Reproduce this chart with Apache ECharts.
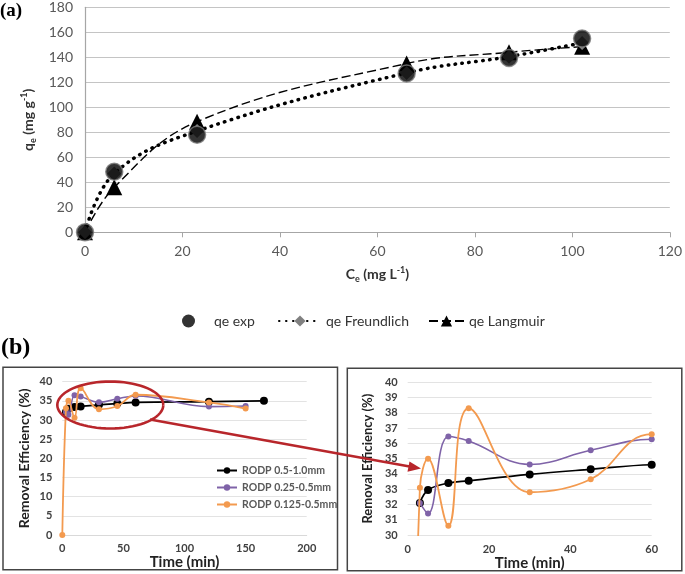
<!DOCTYPE html>
<html>
<head>
<meta charset="utf-8">
<script src="https://cdn.jsdelivr.net/npm/echarts@6/dist/echarts.min.js"></script>
<style>
html,body{margin:0;padding:0;background:#fff;}
#chart{width:685px;height:574px;}
</style>
</head>
<body>
<div id="chart"></div>
<script>
// ---------- Panel (a): isotherm data ----------
const ceValues = [0, 6, 23, 66, 87, 102];
const qeExp = [0, 48.5, 78, 127, 139.5, 155];
const qeFreundlich = [0, 47, 81, 127.5, 140.5, 151.5];
const qeLangmuir = [0, 36, 88.5, 135, 144, 148.5];

// ---------- Panel (b): kinetics data ----------
const timeBlack = [3, 5, 10, 15, 30, 45, 60, 120, 165];
const effBlack = [32.1, 32.95, 33.4, 33.55, 33.97, 34.3, 34.6, 34.8, 35.0];
const timePurple = [3, 5, 10, 15, 30, 45, 60, 120, 150];
const effPurple = [32.1, 31.4, 36.45, 36.15, 34.62, 35.55, 36.27, 33.5, 33.65];
const timeOrange = [0, 3, 5, 10, 15, 30, 45, 60, 120, 150];
const effOrange = [0, 33.1, 35.0, 30.6, 38.3, 32.8, 33.65, 36.6, 34.6, 33.0];

const nameExp = 'qe exp', nameFr = 'qe Freundlich', nameLa = 'qe Langmuir';
const nameB1 = 'RODP 0.5-1.0mm', nameB2 = 'RODP 0.25-0.5mm', nameB3 = 'RODP 0.125-0.5mm';

function pairs(xs, ys) { return xs.map((x, i) => [x, ys[i]]); }

const FONT = 'Lato, "Open Sans", sans-serif';
const cPurple = '#7f63a8', cOrange = '#f39a4f', cRed = '#b8262b';

// ellipse outline (annotation)
const ell = [];
for (let i = 0; i <= 72; i++) {
  const t = i / 72 * Math.PI * 2;
  ell.push([110.3 + 53 * Math.cos(t), 405 + 23.5 * Math.sin(t)]);
}

const bLabel = { fontFamily: FONT, fontWeight: 'bold', fontSize: 11, color: '#404040' };
const bName = { fontFamily: FONT, fontWeight: 'bold', fontSize: 15, color: '#222' };

function bSeries(grid) {
  return [
    { name: nameB1, type: 'line', xAxisIndex: grid, yAxisIndex: grid, data: pairs(timeBlack, effBlack),
      smooth: 0.4, symbol: 'circle', symbolSize: 8, itemStyle: { color: '#000' },
      lineStyle: { color: '#000', width: 1.7 }, z: 3 },
    { name: nameB2, type: 'line', xAxisIndex: grid, yAxisIndex: grid, data: pairs(timePurple, effPurple),
      smooth: 0.4, symbol: 'circle', symbolSize: 6, itemStyle: { color: cPurple },
      lineStyle: { color: cPurple, width: 1.6 }, z: 4 },
    { name: nameB3, type: 'line', xAxisIndex: grid, yAxisIndex: grid, data: pairs(timeOrange, effOrange),
      smooth: 0.4, symbol: 'circle', symbolSize: 6, itemStyle: { color: cOrange },
      lineStyle: { color: cOrange, width: 1.8 }, z: 5 }
  ];
}

const chart = echarts.init(document.getElementById('chart'), null, { renderer: 'canvas' });
chart.setOption({
  animation: false,
  backgroundColor: '#fff',
  grid: [
    { left: 85, top: 7.3, width: 588, height: 225 },
    { left: 62.3, top: 381.7, width: 244.4, height: 153.3 },
    { left: 407.7, top: 382.3, width: 244, height: 152.7 }
  ],
  xAxis: [
    { type: 'value', gridIndex: 0, min: 0, max: 120, interval: 20,
      axisLine: { show: true, lineStyle: { color: '#a6a6a6', width: 1.2 } },
      axisTick: { show: true, length: 5, lineStyle: { color: '#a6a6a6' } },
      splitLine: { show: false },
      axisLabel: { fontFamily: FONT, fontSize: 14, color: '#595959', margin: 12 },
      name: '{t|C}{s|e}{t| (mg L}{p|-1}{t|)}', nameLocation: 'middle', nameGap: 33,
      nameTextStyle: { rich: {
        t: { fontFamily: FONT, fontWeight: 'bold', fontSize: 14, color: '#333', lineHeight: 18 },
        s: { fontFamily: FONT, fontWeight: 'bold', fontSize: 9, color: '#333', verticalAlign: 'bottom', lineHeight: 18 },
        p: { fontFamily: FONT, fontWeight: 'bold', fontSize: 9, color: '#333', verticalAlign: 'top', lineHeight: 18 } } } },
    { type: 'value', gridIndex: 1, min: 0, max: 200, interval: 50,
      axisLine: { show: true, lineStyle: { color: '#d9d9d9' } },
      axisTick: { show: false }, splitLine: { show: false },
      axisLabel: Object.assign({ margin: 8 }, bLabel),
      name: 'Time (min)', nameLocation: 'middle', nameGap: 18, nameTextStyle: bName },
    { type: 'value', gridIndex: 2, min: 0, max: 60, interval: 20,
      axisLine: { show: false },
      axisTick: { show: false }, splitLine: { show: false },
      axisLabel: Object.assign({ margin: 9 }, bLabel),
      name: 'Time (min)', nameLocation: 'middle', nameGap: 18, nameTextStyle: bName }
  ],
  yAxis: [
    { type: 'value', gridIndex: 0, min: 0, max: 180, interval: 20,
      axisLine: { show: true, lineStyle: { color: '#a6a6a6', width: 1.2 } },
      axisTick: { show: false },
      splitLine: { show: true, lineStyle: { color: '#c4c4c4', width: 1.2 } },
      axisLabel: { fontFamily: FONT, fontSize: 14, color: '#595959', margin: 12 },
      name: '{t|q}{s|e}{t| (mg g}{p|-1}{t|)}', nameLocation: 'middle', nameGap: 42, nameRotate: 90,
      nameTextStyle: { rich: {
        t: { fontFamily: FONT, fontWeight: 'bold', fontSize: 14, color: '#333', lineHeight: 18 },
        s: { fontFamily: FONT, fontWeight: 'bold', fontSize: 9, color: '#333', verticalAlign: 'bottom', lineHeight: 18 },
        p: { fontFamily: FONT, fontWeight: 'bold', fontSize: 9, color: '#333', verticalAlign: 'top', lineHeight: 18 } } } },
    { type: 'value', gridIndex: 1, min: 0, max: 40, interval: 5,
      axisLine: { show: false }, axisTick: { show: false },
      splitLine: { show: true, lineStyle: { color: '#e3e3e3' } },
      axisLabel: Object.assign({ margin: 10 }, bLabel),
      name: 'Removal Efficiency (%)', nameLocation: 'middle', nameGap: 31, nameRotate: 90,
      nameTextStyle: { fontFamily: FONT, fontWeight: 'bold', fontSize: 14, color: '#222' } },
    { type: 'value', gridIndex: 2, min: 30, max: 40, interval: 1,
      axisLine: { show: false }, axisTick: { show: false },
      splitLine: { show: true, lineStyle: { color: '#e3e3e3' } },
      axisLabel: Object.assign({ margin: 10 }, bLabel),
      name: 'Removal Efficiency (%)', nameLocation: 'middle', nameGap: 33, nameRotate: 90,
      nameTextStyle: { fontFamily: FONT, fontWeight: 'bold', fontSize: 13, color: '#222' } }
  ],
  legend: [
    { data: [nameExp], left: 177, top: 309, itemWidth: 13, itemHeight: 13,
      itemStyle: { borderWidth: 0 },
      textStyle: { fontFamily: FONT, fontSize: 14, color: '#333', padding: [0, 0, 0, 14] } },
    { data: [nameFr], left: 273, top: 309, itemWidth: 42, itemHeight: 14,
      textStyle: { fontFamily: FONT, fontSize: 14, color: '#333' } },
    { data: [nameLa], left: 423, top: 309, itemWidth: 35, itemHeight: 14,
      textStyle: { fontFamily: FONT, fontSize: 14, color: '#333' } },
    { data: [nameB1, nameB2, nameB3], orient: 'vertical', left: 211, top: 460, itemWidth: 20, itemHeight: 8, itemGap: 6,
      textStyle: { fontFamily: FONT, fontWeight: 'bold', fontSize: 10.5, color: '#595959' } }
  ],
  series: [
    { name: nameLa, type: 'line', xAxisIndex: 0, yAxisIndex: 0, data: pairs(ceValues, qeLangmuir),
      smooth: 0.4, symbol: 'triangle', symbolSize: 16, itemStyle: { color: '#000' },
      lineStyle: { color: '#000', width: 1.4, type: [9, 4] }, z: 2 },
    { name: nameFr, type: 'line', xAxisIndex: 0, yAxisIndex: 0, data: pairs(ceValues, qeFreundlich),
      smooth: 0.4, symbol: 'diamond', symbolSize: 14, itemStyle: { color: '#808080' },
      lineStyle: { color: '#000', width: 3.5, type: [0.5, 6.5], cap: 'round' }, z: 3 },
    { name: nameExp, type: 'scatter', xAxisIndex: 0, yAxisIndex: 0, data: pairs(ceValues, qeExp),
      symbol: 'circle', symbolSize: 17, itemStyle: { color: '#000', borderColor: '#7a7a7a', borderWidth: 1.5 }, z: 4 }
  ].concat(bSeries(1), bSeries(2)),
  graphic: [
    { type: 'text', left: 0, top: 2, style: { text: '(a)', font: 'bold 19px "Liberation Serif", serif', fill: '#000' } },
    { type: 'text', left: 1, top: 336, style: { text: '(b)', font: 'bold 24px "Liberation Serif", serif', fill: '#000' } },
    { type: 'rect', shape: { x: 3, y: 367.3, width: 334.5, height: 202.5 }, style: { fill: 'none', stroke: '#444', lineWidth: 1.5 }, z: 100 },
    { type: 'rect', shape: { x: 347.3, y: 368.3, width: 334.5, height: 202.5 }, style: { fill: 'none', stroke: '#444', lineWidth: 1.5 }, z: 100 },
    { type: 'polyline', shape: { points: ell }, style: { fill: 'none', stroke: cRed, lineWidth: 2.6 }, z: 100 },
    { type: 'line', shape: { x1: 150, y1: 419.5, x2: 411, y2: 466.7 }, style: { stroke: cRed, lineWidth: 2.6 }, z: 100 },
    { type: 'polygon', shape: { points: [[421, 468.5], [409.5, 461.5], [407.5, 471.7]] }, style: { fill: cRed }, z: 100 }
  ]
});
</script>
</body>
</html>
